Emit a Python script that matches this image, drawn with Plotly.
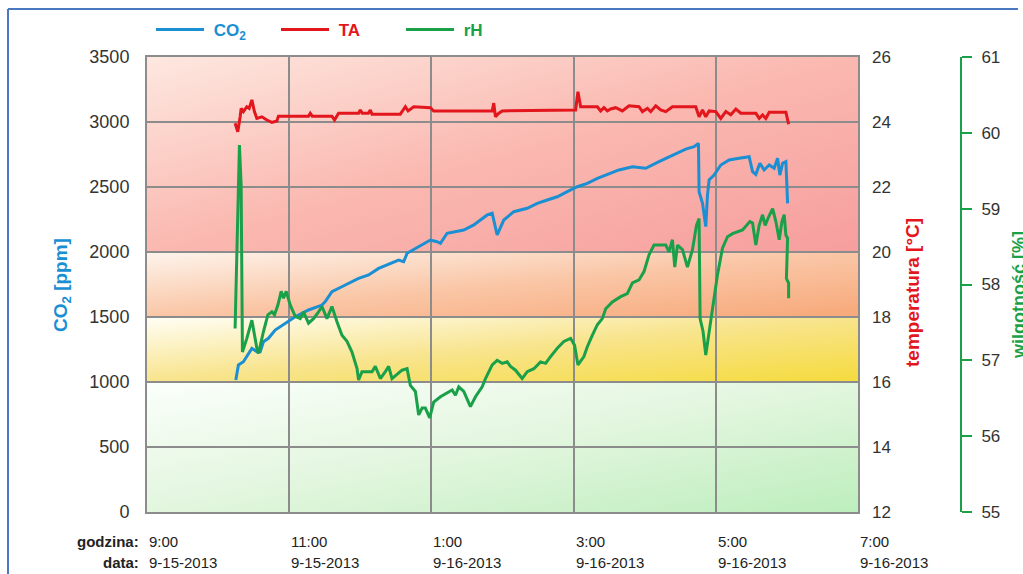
import base64
import plotly.graph_objects as go

# ---------------- data (hours after 21:00 on 9-15-2013) ----------------
co2_t = [1.249, 1.286, 1.356, 1.404, 1.475, 1.545, 1.592, 1.638, 1.708, 1.803, 1.944, 2.085,
         2.272, 2.461, 2.507, 2.601, 2.789, 2.976, 3.117, 3.258, 3.539, 3.610, 3.658, 3.775,
         3.986, 4.080, 4.127, 4.221, 4.455, 4.596, 4.785, 4.855, 4.877, 4.925, 5.018, 5.159,
         5.348, 5.489, 5.630, 5.770, 5.911, 6.052, 6.193, 6.334, 6.451, 6.638, 6.827, 7.014,
         7.201, 7.390, 7.577, 7.694, 7.756, 7.765, 7.813, 7.859, 7.883, 7.906, 7.976, 8.070,
         8.187, 8.328, 8.469, 8.517, 8.563, 8.620, 8.680, 8.751, 8.821, 8.869, 8.901, 8.939,
         8.986, 9.010]
co2_v = [1015, 1131, 1156, 1195, 1259, 1233, 1233, 1310, 1336, 1400, 1451, 1502,
         1554, 1592, 1618, 1695, 1746, 1797, 1823, 1874, 1938, 1925, 1990, 2028,
         2092, 2079, 2067, 2144, 2169, 2208, 2285, 2298, 2246, 2131, 2246, 2310,
         2336, 2374, 2400, 2425, 2464, 2502, 2528, 2567, 2592, 2631, 2656, 2644,
         2695, 2746, 2792, 2810, 2836, 2464, 2374, 2195, 2438, 2554, 2592, 2669,
         2708, 2721, 2733, 2618, 2597, 2682, 2631, 2669, 2644, 2721, 2592, 2682,
         2695, 2374]

ta_t = [1.239, 1.277, 1.310, 1.324, 1.356, 1.404, 1.437, 1.475, 1.511, 1.545, 1.615, 1.686,
        1.756, 1.827, 1.849, 2.272, 2.296, 2.324, 2.601, 2.638, 2.694, 2.976, 3.000, 3.028,
        3.113, 3.141, 3.165, 3.563, 3.634, 3.672, 3.751, 3.986, 4.032, 4.855, 4.877, 4.901,
        4.948, 4.996, 6.028, 6.061, 6.099, 6.334, 6.380, 6.427, 6.475, 6.521, 6.592, 6.686,
        6.779, 6.920, 6.968, 7.038, 7.085, 7.155, 7.225, 7.296, 7.390, 7.718, 7.765, 7.813,
        7.859, 7.906, 8.000, 8.070, 8.141, 8.211, 8.282, 8.352, 8.563, 8.610, 8.658, 8.704,
        8.751, 8.986, 9.024]
ta_v = [23.96, 23.70, 24.16, 24.42, 24.32, 24.47, 24.42, 24.68, 24.32, 24.11, 24.16, 24.06,
        23.99, 24.03, 24.18, 24.18, 24.27, 24.18, 24.18, 24.06, 24.27, 24.27, 24.37, 24.27,
        24.27, 24.37, 24.24, 24.24, 24.47, 24.34, 24.47, 24.44, 24.34, 24.34, 24.58, 24.16,
        24.27, 24.34, 24.37, 24.93, 24.47, 24.47, 24.34, 24.44, 24.34, 24.40, 24.44, 24.34,
        24.50, 24.47, 24.32, 24.42, 24.32, 24.50, 24.37, 24.32, 24.47, 24.47, 24.16, 24.37,
        24.16, 24.34, 24.32, 24.11, 24.32, 24.22, 24.40, 24.27, 24.27, 24.11, 24.22, 24.11,
        24.30, 24.30, 23.93]

rh_t = [1.239, 1.277, 1.300, 1.324, 1.342, 1.404, 1.475, 1.545, 1.568, 1.638, 1.700, 1.756,
        1.793, 1.841, 1.887, 1.920, 1.958, 2.014, 2.085, 2.155, 2.201, 2.272, 2.342, 2.413,
        2.461, 2.531, 2.601, 2.672, 2.742, 2.813, 2.883, 2.954, 2.976, 3.024, 3.165, 3.211,
        3.282, 3.352, 3.399, 3.446, 3.517, 3.587, 3.658, 3.704, 3.775, 3.821, 3.869, 3.915,
        3.976, 4.032, 4.127, 4.221, 4.292, 4.338, 4.385, 4.455, 4.549, 4.620, 4.714, 4.761,
        4.855, 4.925, 4.996, 5.066, 5.113, 5.183, 5.277, 5.348, 5.441, 5.535, 5.606, 5.676,
        5.770, 5.863, 5.958, 6.014, 6.061, 6.145, 6.193, 6.263, 6.334, 6.404, 6.451, 6.545,
        6.662, 6.756, 6.827, 6.920, 6.990, 7.061, 7.131, 7.296, 7.342, 7.390, 7.423, 7.461,
        7.531, 7.601, 7.672, 7.728, 7.765, 7.779, 7.821, 7.859, 7.906, 7.953, 8.024, 8.094,
        8.165, 8.235, 8.376, 8.479, 8.517, 8.563, 8.610, 8.658, 8.694, 8.742, 8.799, 8.845,
        8.892, 8.930, 8.962, 8.986, 9.010, 8.993, 9.024, 9.024]
rh_v = [57.42, 58.87, 59.84, 59.31, 57.11, 57.29, 57.53, 57.16, 57.09, 57.38, 57.60, 57.64,
        57.60, 57.73, 57.91, 57.82, 57.91, 57.73, 57.58, 57.55, 57.64, 57.49, 57.55, 57.64,
        57.71, 57.55, 57.71, 57.51, 57.33, 57.25, 57.11, 56.89, 56.74, 56.85, 56.85, 56.92,
        56.76, 56.85, 56.92, 56.76, 56.81, 56.87, 56.89, 56.67, 56.59, 56.28, 56.37, 56.37,
        56.24, 56.45, 56.52, 56.57, 56.61, 56.54, 56.65, 56.59, 56.39, 56.52, 56.65, 56.76,
        56.94, 57.00, 56.96, 56.98, 56.92, 56.87, 56.76, 56.85, 56.89, 56.98, 56.96, 57.05,
        57.16, 57.25, 57.29, 57.20, 56.94, 57.05, 57.18, 57.33, 57.47, 57.55, 57.68, 57.77,
        57.84, 57.88, 58.02, 58.06, 58.17, 58.39, 58.52, 58.52, 58.43, 58.59, 58.23, 58.52,
        58.46, 58.23, 58.46, 58.78, 58.87, 57.55, 57.38, 57.07, 57.38, 57.73, 58.13, 58.48,
        58.63, 58.67, 58.72, 58.83, 58.81, 58.52, 58.78, 58.92, 58.78, 58.89, 59.00, 58.83,
        58.59, 58.83, 58.92, 58.65, 58.61, 58.08, 58.02, 57.82]

tick_hours = [0, 2, 4, 6, 8, 10]
tick_time = ["9:00", "11:00", "1:00", "3:00", "5:00", "7:00"]
tick_date = ["9-15-2013", "9-15-2013", "9-16-2013", "9-16-2013", "9-16-2013", "9-16-2013"]

band_edges = [0, 1000, 1500, 2000, 3500]   # CO2 comfort bands (ppm)
band_stops = [  # gradient stops per band (bottom to top band)
    ["#fbfffb", "#e2f6de", "#bdeebd"],
    ["#fffef6", "#f8e48c", "#f5db3c"],
    ["#fdf4ec", "#fac6a6", "#f7a878"],
    ["#fde8e0", "#fab8b0", "#f69e9e"],
]

C_BLUE = "#1b8fd3"
C_RED = "#e2161c"
C_GREEN = "#1aa049"
GRID = "#8c8c8c"
TXT = "#333333"

X_MAX = 10
Y_MAX = 3500

# ---------------- background gradient (SVG) ----------------
defs, rects = [], []
for i in range(len(band_edges) - 1):
    lo, hi = band_edges[i], band_edges[i + 1]
    s = band_stops[i]
    defs.append(
        f'<linearGradient id="g{i}" x1="0" y1="0" x2="1" y2="1">'
        f'<stop offset="0" stop-color="{s[0]}"/><stop offset="0.5" stop-color="{s[1]}"/>'
        f'<stop offset="1" stop-color="{s[2]}"/></linearGradient>')
    rects.append(f'<rect x="0" y="{Y_MAX - hi}" width="{X_MAX}" height="{hi - lo}" fill="url(#g{i})"/>')
svg = (f'<svg xmlns="http://www.w3.org/2000/svg" width="711" height="455" '
       f'viewBox="0 0 {X_MAX} {Y_MAX}" preserveAspectRatio="none"><defs>{"".join(defs)}</defs>'
       f'{"".join(rects)}</svg>')
svg_uri = "data:image/svg+xml;base64," + base64.b64encode(svg.encode()).decode()

# ---------------- figure ----------------
W, H = 1023, 574
ML, MR, MT, MB = 147, 20, 57, 62
PW = W - ML - MR
PH = H - MT - MB
DOM_R = 711 / PW


def px(x):
    return (x - ML) / PW


def py(y):
    return (H - MB - y) / PH


NB = "\u00a0"
fig = go.Figure()
fig.add_trace(go.Scatter(x=co2_t, y=co2_v, mode="lines", yaxis="y",
                         line=dict(color=C_BLUE, width=3),
                         name=f"{NB}<span style='color:{C_BLUE}'><b>CO<sub>2</sub></b></span>"))
fig.add_trace(go.Scatter(x=ta_t, y=ta_v, mode="lines", yaxis="y2",
                         line=dict(color=C_RED, width=3),
                         name=f"{NB}<span style='color:{C_RED}'><b>TA</b></span>"))
fig.add_trace(go.Scatter(x=rh_t, y=rh_v, mode="lines", yaxis="y3",
                         line=dict(color=C_GREEN, width=3),
                         name=f"{NB}<span style='color:{C_GREEN}'><b>rH</b></span>"))

fig.add_layout_image(dict(source=svg_uri, xref="x", yref="y", x=0, y=Y_MAX,
                          sizex=X_MAX, sizey=Y_MAX, sizing="stretch",
                          xanchor="left", yanchor="top", layer="below"))

num_font = dict(family="Liberation Sans, Arial, sans-serif", size=18, color=TXT)

fig.update_layout(
    width=W, height=H,
    margin=dict(l=ML, r=MR, t=MT, b=MB),
    paper_bgcolor="white", plot_bgcolor="white",
    font=dict(family="Liberation Sans, Arial, sans-serif", color=TXT),
    showlegend=True,
    legend=dict(orientation="h", x=px(151), y=py(30), xanchor="left", yanchor="middle",
                font=dict(size=17), itemwidth=48, entrywidth=62, entrywidthmode="pixels",
                bgcolor="rgba(0,0,0,0)"),
    xaxis=dict(domain=[0, DOM_R], range=[0, X_MAX], tickvals=tick_hours, showticklabels=False,
               showgrid=True, gridcolor=GRID, gridwidth=2, zeroline=False,
               showline=True, mirror=True, linecolor=GRID, linewidth=2, ticks=""),
    yaxis=dict(range=[0, Y_MAX], dtick=500, showgrid=True, gridcolor=GRID, gridwidth=2,
               zeroline=False, showline=True, mirror=True, linecolor=GRID, linewidth=2,
               ticks="", tickfont=num_font, ticklabelstandoff=12),
    yaxis2=dict(range=[12, 26], dtick=2, overlaying="y", side="right", anchor="x",
                showgrid=False, zeroline=False, showline=False, ticks="",
                tickfont=dict(num_font, size=17), ticklabelstandoff=13),
    yaxis3=dict(range=[55, 61], dtick=1, overlaying="y", side="right", anchor="free",
                position=px(961), showgrid=False, zeroline=False, showline=True,
                linecolor=C_GREEN, linewidth=2, ticks="outside", ticklen=10, tickwidth=2,
                tickcolor=C_GREEN, tickfont=dict(num_font, size=17), ticklabelstandoff=6),
)

# axis titles
for xx, yy, txt, col, fs in [(62, 285, "<b>CO<sub>2</sub> [ppm]</b>", C_BLUE, 19),
                             (912, 293, "<b>temperatura [°C]</b>", C_RED, 19),
                             (1019, 295, "<b>wilgotność [%]</b>", C_GREEN, 18)]:
    fig.add_annotation(x=px(xx), y=py(yy), xref="paper", yref="paper", showarrow=False,
                       xanchor="center", yanchor="middle", text=txt, textangle=-90,
                       font=dict(size=fs, color=col))

# bottom two-row time axis labels
lab_font = dict(family="Liberation Sans, Arial, sans-serif", size=15, color="#222222")
fig.add_annotation(x=px(141), y=py(541), xref="paper", yref="paper", showarrow=False,
                   xanchor="right", yanchor="middle", text="<b>godzina:</b>", font=lab_font)
fig.add_annotation(x=px(141), y=py(562), xref="paper", yref="paper", showarrow=False,
                   xanchor="right", yanchor="middle", text="<b>data:</b>", font=lab_font)
for h, t, d in zip(tick_hours, tick_time, tick_date):
    fig.add_annotation(x=h, y=py(541), xref="x", yref="paper", showarrow=False,
                       xanchor="left", yanchor="middle", text=t, font=lab_font)
    fig.add_annotation(x=h, y=py(562), xref="x", yref="paper", showarrow=False,
                       xanchor="left", yanchor="middle", text=d, font=lab_font)

# blue frame of the figure
fig.add_shape(type="line", xref="paper", yref="paper", x0=px(8), x1=px(1018), y0=py(9), y1=py(9),
              line=dict(color="#4a78c2", width=2))
fig.add_shape(type="line", xref="paper", yref="paper", x0=px(8), x1=px(8), y0=py(9), y1=py(580),
              line=dict(color="#4a78c2", width=2))

fig.write_html("out.html", config={"displayModeBar": False},
               post_script="document.body.style.margin='0px';")
